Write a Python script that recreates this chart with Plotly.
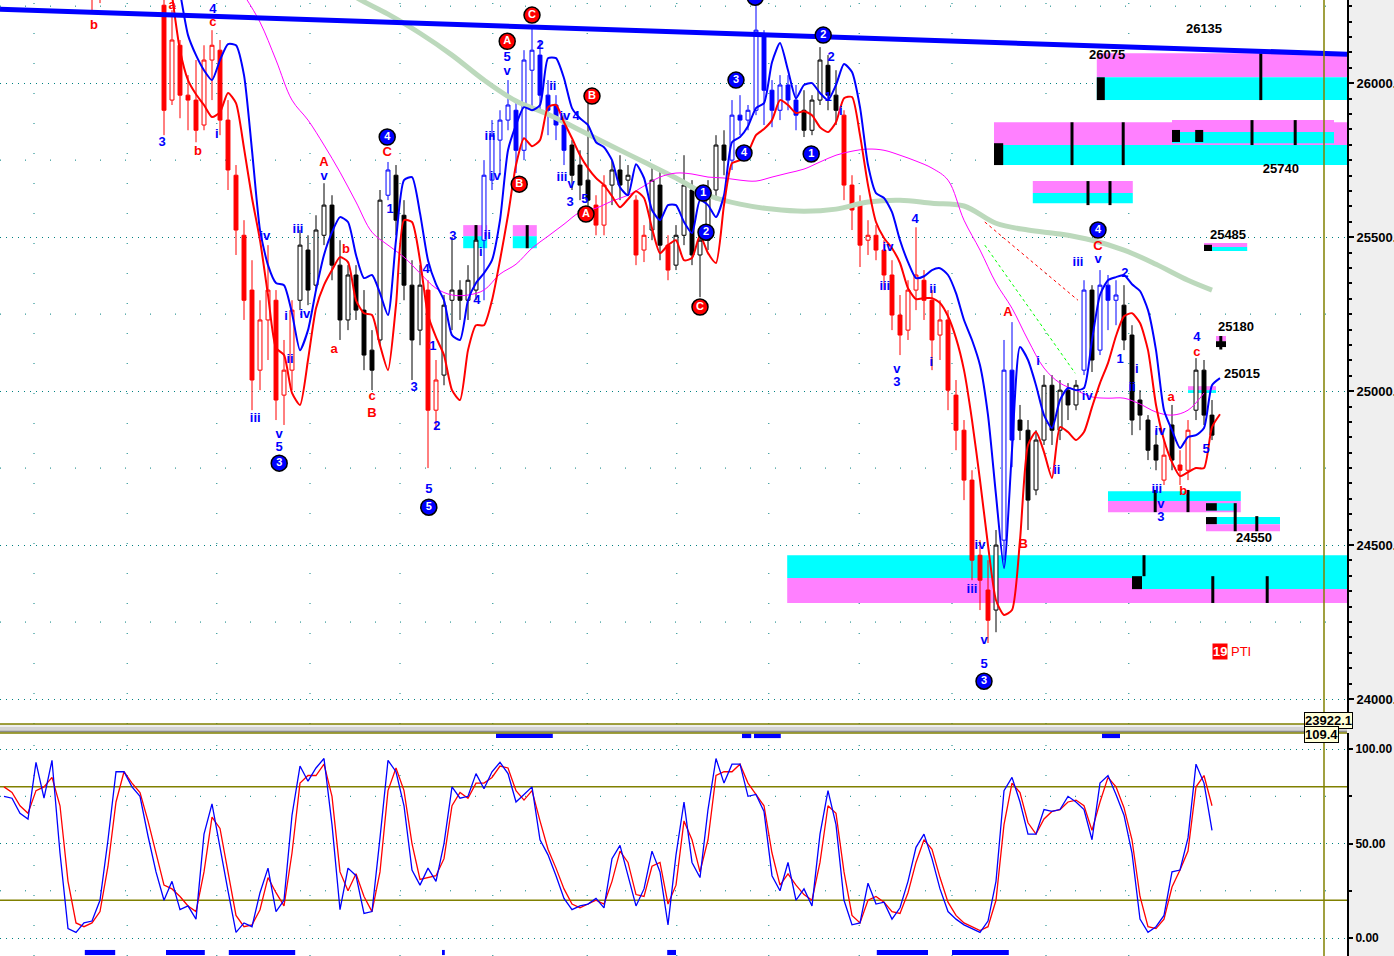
import plotly.graph_objects as go

# ---------------- price bars (bar index 0..151) ----------------
bar_open = [
    26480, 26500, 26540, 26500, 26450, 26560, 26520, 26600, 26480, 26350,
    26330, 26360, 26300, 26400, 26500, 26580, 26590, 26540, 26500, 26420,
    26253, 25945, 26123, 25961, 25945, 25864, 26075, 26107, 25880, 25701,
    25506, 25328, 25068, 25231, 25295, 24987, 25068, 25295, 25458, 25344,
    25506, 25604, 25409, 25231, 25377, 25263, 25133, 25166, 25636, 25701,
    25571, 25344, 25198, 25328, 24938, 25052, 25295, 25328, 25295, 25328,
    25490, 25685, 25815, 25880, 25912, 25782, 26042, 26091, 25961, 25929,
    25864, 25799, 25734, 25685, 25604, 25539, 25669, 25718, 25685, 25620,
    25458, 25523, 25669, 25474, 25409, 25506, 25653, 25442, 25490, 25653,
    25799, 25750, 25896, 25880, 25912, 26156, 25977, 25912, 25994, 25945,
    25912, 25847, 25945, 26058, 25961, 25896, 25669, 25604, 25490, 25506,
    25458, 25377, 25247, 25198, 25328, 25360, 25295, 25182, 25231, 24987,
    24873, 24711, 24467, 24354, 24289, 24516, 25068, 24906, 24873, 24679,
    24841, 25019, 24873, 25003, 24955, 25068, 25328, 25133, 25344, 25295,
    25279, 25182, 24971, 24906, 24825, 24711, 24890, 24760, 24743, 24938,
    25068, 24922]
bar_high = [
    26530, 26560, 26570, 26520, 26580, 26590, 26620, 26610, 26490, 26380,
    26370, 26400, 26420, 26520, 26600, 26620, 26600, 26560, 26510, 26440,
    26300, 26237, 26140, 26026, 26075, 26123, 26172, 26140, 25945, 25734,
    25555, 25425, 25295, 25474, 25328, 25166, 25295, 25523, 25506, 25571,
    25675, 25636, 25490, 25409, 25409, 25328, 25198, 25653, 25744, 25734,
    25620, 25425, 25409, 25360, 25101, 25312, 25500, 25360, 25409, 25539,
    25750, 25880, 25912, 26010, 25945, 26107, 26182, 26140, 26010, 25961,
    25896, 25815, 25782, 25945, 25636, 25701, 25750, 25766, 25734, 25636,
    25539, 25734, 25718, 25506, 25539, 25766, 25685, 25523, 25685, 25831,
    25847, 25945, 25961, 25929, 26253, 26172, 26010, 26026, 26026, 25994,
    25977, 25961, 26117, 26091, 26042, 25912, 25701, 25636, 25555, 25539,
    25490, 25425, 25312, 25360, 25532, 25393, 25328, 25295, 25263, 25036,
    24906, 24743, 24516, 24451, 24549, 25166, 25224, 24955, 24906, 24873,
    25052, 25052, 25036, 25026, 25036, 25360, 25344, 25393, 25377, 25360,
    25344, 25214, 25003, 24922, 24873, 24841, 24955, 24808, 24906, 25107,
    25101, 24971]
bar_low = [
    26440, 26470, 26480, 26430, 26440, 26500, 26510, 26460, 26330, 26300,
    26300, 26225, 26260, 26390, 26490, 26540, 26520, 26480, 26400, 26300,
    25831, 25929, 25886, 25847, 25808, 25847, 25945, 25831, 25653, 25442,
    25231, 24938, 25003, 25101, 24906, 24890, 25003, 25263, 25279, 25328,
    25474, 25360, 25166, 25198, 25231, 25068, 25003, 25149, 25620, 25506,
    25295, 25036, 25149, 24750, 24873, 25019, 25198, 25231, 25231, 25295,
    25295, 25653, 25701, 25847, 25708, 25750, 25912, 25912, 25831, 25815,
    25734, 25653, 25620, 25571, 25506, 25506, 25604, 25620, 25636, 25409,
    25419, 25490, 25425, 25360, 25393, 25474, 25409, 25305, 25458, 25620,
    25701, 25718, 25831, 25847, 25896, 25864, 25857, 25880, 25912, 25847,
    25825, 25831, 25929, 25912, 25864, 25620, 25523, 25403, 25442, 25425,
    25328, 25198, 25117, 25166, 25263, 25231, 25068, 25101, 24938, 24808,
    24646, 24386, 24289, 24182, 24217, 24451, 24753, 24841, 24549, 24662,
    24825, 24825, 24841, 24906, 24938, 25052, 25062, 25117, 25198, 25214,
    25133, 24857, 24873, 24776, 24743, 24695, 24743, 24695, 24711, 24906,
    24890, 24841]
bar_close = [
    26500, 26540, 26500, 26450, 26560, 26520, 26600, 26480, 26350, 26330,
    26360, 26300, 26400, 26500, 26580, 26590, 26540, 26500, 26420, 26330,
    25912, 26140, 25961, 25945, 25847, 26075, 26123, 25880, 25718, 25523,
    25295, 25036, 25231, 25328, 24971, 25068, 25263, 25474, 25328, 25523,
    25604, 25409, 25231, 25377, 25263, 25117, 25068, 25620, 25718, 25555,
    25344, 25166, 25344, 24938, 25036, 25279, 25328, 25295, 25360, 25490,
    25701, 25831, 25880, 25929, 25782, 26075, 26107, 25961, 25912, 25864,
    25782, 25701, 25669, 25620, 25539, 25669, 25718, 25669, 25701, 25442,
    25506, 25685, 25474, 25393, 25506, 25669, 25442, 25490, 25653, 25799,
    25750, 25896, 25880, 25912, 26172, 25977, 25912, 25994, 25945, 25896,
    25847, 25945, 26075, 25961, 25912, 25669, 25588, 25474, 25506, 25458,
    25377, 25247, 25182, 25328, 25377, 25295, 25166, 25231, 25003, 24873,
    24711, 24451, 24386, 24256, 24500, 25068, 24841, 24873, 24646, 24841,
    25019, 24873, 25003, 24955, 25019, 25328, 25101, 25344, 25295, 25312,
    25166, 24906, 24922, 24808, 24776, 24792, 24776, 24743, 24873, 25068,
    24922, 24857]
# colour of each run of bars: (first, last, colour name)
bar_color_runs = [
    (0, 36, "red"), (37, 47, "black"), (48, 48, "blue"), (49, 52, "black"),
    (53, 54, "red"), (55, 59, "black"), (60, 70, "blue"), (71, 73, "black"),
    (74, 75, "red"), (76, 78, "black"), (79, 80, "red"), (81, 82, "black"),
    (83, 83, "red"), (84, 90, "black"), (91, 99, "blue"), (100, 104, "black"),
    (105, 123, "red"), (124, 124, "black"), (125, 126, "blue"), (127, 134, "black"),
    (135, 135, "blue"), (136, 136, "black"), (137, 139, "blue"), (140, 144, "black"),
    (145, 145, "red"), (146, 146, "black"), (147, 148, "red"), (149, 151, "black")]

# ---------------- indicator lines ----------------
env_x = list(range(21, 153))
env_upper = [
    26432, 26295, 26156, 26091, 26042, 26010, 26075, 26127, 26123, 26026,
    25782, 25523, 25409, 25351, 25344, 25253, 25133, 25198, 25328, 25442,
    25516, 25565, 25549, 25442, 25367, 25377, 25318, 25247, 25490, 25685,
    25695, 25578, 25425, 25347, 25295, 25182, 25166, 25295, 25351, 25383,
    25425, 25555, 25782, 25864, 25922, 25912, 25929, 26081, 26081, 26016,
    25919, 25886, 25864, 25808, 25792, 25750, 25662, 25636, 25737, 25692,
    25588, 25555, 25604, 25604, 25549, 25513, 25620, 25604, 25565, 25636,
    25808, 25825, 25860, 25919, 25935, 26068, 26130, 26042, 25951, 25994,
    26000, 25968, 25945, 25994, 26062, 26036, 25922, 25734, 25643, 25627,
    25581, 25490, 25419, 25367, 25373, 25393, 25399, 25377, 25318, 25231,
    25166, 25084, 24922, 24662, 24425, 24808, 25143, 25101, 25019, 24922,
    24880, 24971, 25010, 25003, 25010, 25166, 25312, 25360, 25370, 25377,
    25347, 25325, 25263, 25133, 24938, 24873, 24815, 24851, 24857, 24880,
    25019, 25042]
env_lower = [
    26286, 26107, 26010, 25964, 25929, 25890, 25906, 25968, 25935, 25789,
    25627, 25490, 25312, 25140, 25117, 24994, 24955, 25101, 25269, 25344,
    25393, 25435, 25419, 25295, 25253, 25247, 25149, 25068, 25279, 25555,
    25549, 25425, 25247, 25175, 25117, 25003, 24971, 25133, 25214, 25214,
    25295, 25425, 25571, 25734, 25821, 25795, 25815, 25922, 25929, 25873,
    25821, 25766, 25724, 25692, 25669, 25633, 25597, 25623, 25649, 25627,
    25529, 25448, 25474, 25490, 25425, 25432, 25506, 25448, 25416, 25604,
    25740, 25750, 25776, 25831, 25851, 25880, 25945, 25929, 25903, 25909,
    25896, 25857, 25841, 25873, 25951, 25955, 25831, 25669, 25549, 25497,
    25464, 25416, 25334, 25299, 25302, 25302, 25286, 25243, 25172, 25068,
    24906, 24711, 24500, 24321, 24273, 24289, 24516, 24825, 24867, 24802,
    24718, 24883, 24867, 24841, 24867, 24948, 25026, 25091, 25179, 25243,
    25253, 25221, 25133, 24955, 24841, 24769, 24724, 24737, 24750, 24750,
    24883, 24925]
ma_fast_x = list(range(30, 151, 2))
ma_fast = [
    26286, 26198, 26075, 25945, 25880, 25799, 25711, 25614, 25516, 25474,
    25435, 25383, 25334, 25312, 25312, 25328, 25380, 25412, 25464, 25503,
    25542, 25581, 25594, 25617, 25636, 25666, 25695, 25708, 25705, 25695,
    25692, 25685, 25682, 25695, 25708, 25721, 25744, 25766, 25779, 25786,
    25782, 25766, 25747, 25724, 25685, 25555, 25458, 25351, 25269, 25166,
    25075, 25026, 25003, 24981, 24977, 24977, 24958, 24932, 24922, 24938,
    24994]
ma_slow_x = [42, 44, 48, 52, 56, 60, 64, 68, 72, 76, 80, 84, 88, 92, 96, 100,
             104, 108, 112, 116, 120, 124, 128, 132, 136, 140, 144, 148, 151]
ma_slow = [26318, 26279, 26224, 26162, 26091, 26010, 25942, 25899, 25847, 25795,
           25744, 25692, 25636, 25607, 25591, 25584, 25591, 25614, 25620, 25610,
           25601, 25545, 25523, 25510, 25490, 25458, 25412, 25360, 25328]

trend_x = [-0.5, 167.9]
trend_y = [26240, 26094]
chan_green_x = [122.6, 133.9]
chan_green_y = [25474, 25058]
chan_red_x = [122.6, 134.25]
chan_red_y = [25549, 25295]

# ---------------- stochastic ----------------
stoch_k = [
    75, 74, 66, 63, 93, 74, 94, 45, 5, 3,
    8, 9, 20, 52, 88, 88, 80, 75, 54, 35,
    20, 30, 15, 17, 10, 55, 71, 47, 25, 3,
    8, 6, 24, 37, 14, 20, 65, 91, 83, 90,
    95, 60, 15, 37, 33, 13, 14, 53, 94, 88,
    70, 36, 28, 37, 30, 50, 80, 74, 75, 87,
    79, 88, 93, 87, 72, 76, 80, 52, 44, 33,
    21, 15, 17, 18, 21, 16, 42, 49, 33, 17,
    26, 46, 35, 7, 44, 72, 40, 32, 68, 95,
    82, 92, 92, 75, 76, 67, 33, 25, 40, 20,
    26, 17, 55, 78, 60, 20, 7, 8, 29, 18,
    19, 10, 16, 30, 48, 55, 42, 26, 14, 10,
    7, 5, 3, 9, 30, 78, 85, 72, 55, 55,
    68, 67, 68, 75, 72, 68, 52, 82, 86, 76,
    65, 45, 10, 3, 6, 12, 35, 36, 53, 92,
    82, 57]
stoch_d = [
    80, 77, 70, 66, 78, 80, 85, 70, 30, 8,
    6, 8, 14, 38, 72, 88, 82, 77, 62, 45,
    28, 26, 22, 17, 14, 35, 64, 58, 35, 12,
    6, 7, 15, 32, 24, 17, 45, 82, 86, 86,
    92, 75, 35, 25, 34, 22, 14, 35, 78, 90,
    78, 50, 31, 32, 33, 42, 70, 77, 74, 82,
    82, 85, 91, 90, 78, 73, 78, 62, 47, 37,
    26, 18, 16, 18, 20, 18, 30, 46, 40, 23,
    22, 38, 40, 18, 28, 62, 52, 35, 52, 86,
    88, 88, 92, 82, 76, 70, 45, 28, 34, 28,
    23, 20, 40, 70, 66, 35, 12, 8, 20, 22,
    19, 14, 13, 24, 40, 52, 47, 32, 19, 12,
    8, 6, 4, 6, 20, 60, 82, 77, 61, 55,
    63, 67, 68, 72, 73, 70, 57, 72, 85, 80,
    69, 52, 22, 6, 5, 10, 27, 36, 46, 80,
    86, 70]
stoch_signal_bottom = [(10.1, 13.9), (20.25, 25.1), (28.1, 36.4), (54.75, 55.1),
                       (82.9, 84.0), (109.1, 115.5), (118.5, 125.6)]
stoch_signal_top = [(61.5, 68.6), (92.25, 93.4), (93.75, 97.1), (137.25, 139.5)]

# ---------------- target zones ----------------
zone_rects = [
    (136.6, 167.9, 26019, 26097, "pink"), (136.6, 167.9, 25945, 26019, "cyan"),
    (136.6, 137.6, 25945, 26019, "black"),
    (123.75, 167.9, 25799, 25873, "pink"), (123.75, 167.9, 25734, 25799, "cyan"),
    (146.0, 166.25, 25841, 25880, "pink"), (146.0, 166.25, 25805, 25841, "cyan"),
    (123.75, 124.9, 25734, 25805, "black"), (146.0, 147.0, 25809, 25848, "black"),
    (148.9, 149.9, 25809, 25848, "black"),
    (128.6, 141.1, 25643, 25682, "pink"), (128.6, 141.1, 25610, 25643, "cyan"),
    (150.0, 155.4, 25468, 25481, "pink"), (151.0, 155.4, 25455, 25468, "cyan"),
    (150.0, 151.0, 25455, 25475, "black"),
    (151.5, 152.75, 25162, 25179, "pink"), (151.5, 152.75, 25143, 25162, "black"),
    (148.0, 151.5, 25003, 25016, "pink"), (148.0, 151.5, 24994, 25003, "cyan"),
    (138.0, 154.6, 24643, 24675, "cyan"), (138.0, 154.6, 24607, 24643, "pink"),
    (150.25, 154.1, 24612, 24636, "cyan"), (150.25, 151.6, 24612, 24636, "black"),
    (150.25, 159.5, 24568, 24591, "cyan"), (150.25, 159.5, 24545, 24568, "pink"),
    (150.25, 151.6, 24568, 24591, "black"),
    (97.9, 141.0, 24393, 24467, "cyan"), (97.9, 141.0, 24312, 24393, "pink"),
    (141.0, 167.9, 24357, 24467, "cyan"), (141.0, 167.9, 24312, 24357, "pink"),
    (141.0, 142.25, 24357, 24399, "black"),
    (57.4, 60.4, 25503, 25539, "pink"), (57.4, 60.4, 25464, 25503, "cyan"),
    (63.6, 66.6, 25503, 25539, "pink"), (63.6, 66.6, 25464, 25503, "cyan")]
zone_ticks = [
    (157.1, 25945, 26097), (133.5, 25734, 25873), (139.9, 25734, 25873),
    (156.0, 25799, 25880), (161.4, 25799, 25880), (135.5, 25604, 25682),
    (138.25, 25604, 25682), (143.9, 24607, 24679), (148.0, 24607, 24679),
    (153.9, 24545, 24636), (156.6, 24545, 24594), (142.5, 24399, 24467),
    (151.1, 24312, 24399), (157.9, 24312, 24399), (59.0, 25464, 25539),
    (65.4, 25464, 25539), (152.1, 25135, 25179)]
price_labels = [("26135", 150.0, 26175), ("26075", 137.9, 26088), ("25740", 159.6, 25718),
                ("25485", 153.0, 25503), ("25180", 154.0, 25205), ("25015", 154.75, 25052),
                ("24550", 156.25, 24519)]

# ---------------- wave labels ----------------
blue_labels = [
    ("3", 19.75, 25805), ("4", 26.1, 26237), ("i", 26.6, 25831), ("iii", 31.4, 24909),
    ("iv", 32.6, 25500), ("v", 34.4, 24857), ("5", 34.4, 24815), ("i", 35.25, 25240),
    ("ii", 35.75, 25101), ("iii", 36.75, 25523), ("iv", 37.6, 25247), ("v", 40.0, 25695),
    ("1", 48.25, 25588), ("3", 51.25, 25010), ("4", 52.75, 25393), ("1", 53.6, 25143),
    ("2", 54.1, 24883), ("5", 53.1, 24679), ("3", 56.1, 25500), ("4", 59.1, 25295),
    ("i", 59.6, 25448), ("ii", 60.4, 25506), ("iv", 61.4, 25695), ("iii", 60.75, 25825),
    ("v", 62.9, 26036), ("5", 62.9, 26084), ("2", 67.0, 26123), ("ii", 68.6, 25987),
    ("iv", 70.1, 25890), ("4", 71.5, 25890), ("iii", 69.75, 25692), ("v", 70.9, 25670),
    ("3", 70.75, 25612), ("5", 72.6, 25620), ("2", 103.4, 26084), ("1", 103.0, 25951),
    ("i", 104.6, 25906), ("4", 113.9, 25555), ("iv", 110.5, 25464), ("iii", 110.1, 25338),
    ("ii", 116.1, 25328), ("v", 111.6, 25068), ("3", 111.6, 25026), ("i", 115.9, 25091),
    ("iii", 121.0, 24354), ("iv", 122.0, 24497), ("v", 122.5, 24188), ("5", 122.5, 24110),
    ("i", 129.25, 25094), ("ii", 131.6, 24743), ("iii", 134.25, 25416), ("iv", 135.4, 24981),
    ("v", 136.75, 25425), ("2", 140.1, 25380), ("1", 139.5, 25101), ("i", 141.6, 25068),
    ("ii", 141.0, 25010), ("iv", 144.5, 24867), ("iii", 144.1, 24679), ("v", 144.6, 24630),
    ("3", 144.6, 24588), ("4", 149.1, 25172), ("5", 150.25, 24808)]
blue_circles = [
    ("3", 34.4, 24766), ("4", 47.9, 25825), ("5", 53.1, 24623), ("3", 91.5, 26010),
    ("1", 87.4, 25643), ("2", 87.75, 25516), ("4", 92.5, 25773), ("1", 100.9, 25770),
    ("2", 102.4, 26156), ("3", 122.5, 24058), ("4", 136.75, 25523), ("5", 93.9, 26279)]
red_labels = [
    ("b", 11.25, 26188), ("a", 21.0, 26250), ("c", 26.1, 26195), ("b", 24.25, 25776),
    ("A", 40.0, 25743), ("a", 41.25, 25133), ("b", 42.75, 25458), ("c", 46.0, 24982),
    ("B", 46.0, 24925), ("C", 47.9, 25773), ("A", 125.5, 25253), ("B", 127.4, 24500),
    ("C", 136.75, 25468), ("a", 145.9, 24977), ("b", 147.4, 24672), ("c", 149.1, 25123)]
red_circles = [
    ("A", 62.9, 26136), ("B", 64.4, 25672), ("C", 66.0, 26221), ("B", 73.5, 25958),
    ("A", 72.75, 25575), ("C", 87.0, 25273)]

grid_x = [3.75, 15.4, 26.6, 38.25, 49.5, 61.1, 72.9, 84.1, 95.6, 106.9, 118.5, 130.25, 140.6]
price_ticks = [24000, 24500, 25000, 25500, 26000]
price_minor_rows = [24250, 24750, 25250, 25750, 26250]
stoch_ticks = [0, 50, 100]
stoch_levels = [20, 80]
cursor_x = 165.0

# ---------------- figure ----------------
X_RANGE = [-0.5, 167.875]
Y_RANGE = [23919, 26270]
S_RANGE = [-9.5, 108.5]
BLUE, RED, OLIVE, TEAL = "#0000ff", "#ff0000", "#808000", "#008080"
ZCOL = {"pink": "#ff80ff", "cyan": "#00ffff", "black": "#000000"}
FONT = "Liberation Sans"

fig = go.Figure()

# slow (grey-green) and fast (magenta) averages
fig.add_trace(go.Scatter(x=ma_slow_x, y=ma_slow, mode="lines",
                         line=dict(color="#bcd9bc", width=5, shape="spline"), hoverinfo="skip"))
fig.add_trace(go.Scatter(x=ma_fast_x, y=ma_fast, mode="lines",
                         line=dict(color="#ff00ff", width=1, shape="spline"), hoverinfo="skip"))

# price bars by colour
colour_of = {}
for a, b, c in bar_color_runs:
    for i in range(a, b + 1):
        colour_of[i] = c
cmap = {"red": RED, "blue": BLUE, "black": "#000000"}
for cname, ccol in cmap.items():
    sel = [i for i in range(len(bar_close)) if colour_of[i] == cname]
    fig.add_trace(go.Candlestick(
        x=sel, open=[bar_open[i] for i in sel], high=[bar_high[i] for i in sel],
        low=[bar_low[i] for i in sel], close=[bar_close[i] for i in sel],
        increasing=dict(line=dict(color=ccol, width=1), fillcolor="white"),
        decreasing=dict(line=dict(color=ccol, width=1), fillcolor=ccol),
        whiskerwidth=0, hoverinfo="skip", xaxis="x", yaxis="y"))

# envelopes
fig.add_trace(go.Scatter(x=env_x, y=env_upper, mode="lines",
                         line=dict(color=BLUE, width=2, shape="spline", smoothing=0.6), hoverinfo="skip"))
fig.add_trace(go.Scatter(x=env_x, y=env_lower, mode="lines",
                         line=dict(color=RED, width=2, shape="spline", smoothing=0.6), hoverinfo="skip"))
# channel lines
fig.add_trace(go.Scatter(x=chan_green_x, y=chan_green_y, mode="lines",
                         line=dict(color="#00ff00", width=1, dash="dot"), hoverinfo="skip"))
fig.add_trace(go.Scatter(x=chan_red_x, y=chan_red_y, mode="lines",
                         line=dict(color=RED, width=1, dash="dot"), hoverinfo="skip"))
# trendline
fig.add_trace(go.Scatter(x=trend_x, y=trend_y, mode="lines",
                         line=dict(color=BLUE, width=5), hoverinfo="skip"))

# wave labels
def text_trace(items, colour, size=13):
    return go.Scatter(x=[t[1] for t in items], y=[t[2] for t in items], text=[t[0] for t in items],
                      mode="text", textposition="middle center",
                      textfont=dict(family=FONT, size=size, color=colour, weight="bold"),
                      hoverinfo="skip")

def circle_trace(items, colour):
    return go.Scatter(x=[t[1] for t in items], y=[t[2] for t in items], text=[t[0] for t in items],
                      mode="markers+text", textposition="middle center",
                      marker=dict(symbol="circle", size=16, color=colour, line=dict(color="black", width=1.5)),
                      textfont=dict(family=FONT, size=11, color="white", weight="bold"),
                      hoverinfo="skip")

fig.add_trace(text_trace(blue_labels, BLUE))
fig.add_trace(text_trace(red_labels, RED))
fig.add_trace(circle_trace(blue_circles, BLUE))
fig.add_trace(circle_trace(red_circles, RED))
fig.add_trace(text_trace(price_labels, "black", 13))

# stochastic
fig.add_trace(go.Scatter(x=list(range(len(stoch_d))), y=stoch_d, mode="lines",
                         line=dict(color=RED, width=1.3), xaxis="x2", yaxis="y2", hoverinfo="skip"))
fig.add_trace(go.Scatter(x=list(range(len(stoch_k))), y=stoch_k, mode="lines",
                         line=dict(color=BLUE, width=1.3), xaxis="x2", yaxis="y2", hoverinfo="skip"))

shapes = []
for x0, x1, y0, y1, k in zone_rects:
    shapes.append(dict(type="rect", xref="x", yref="y", x0=x0, x1=x1, y0=y0, y1=y1,
                       fillcolor=ZCOL[k], line=dict(width=0), layer="between"))
for x, y0, y1 in zone_ticks:
    shapes.append(dict(type="line", xref="x", yref="y", x0=x, x1=x, y0=y0, y1=y1,
                       line=dict(color="black", width=3), layer="between"))
for yv in price_minor_rows:
    shapes.append(dict(type="line", xref="x domain", yref="y", x0=0, x1=1, y0=yv, y1=yv,
                       line=dict(color=TEAL, width=1, dash="1px,24px"), layer="below"))
for yv in [25, 75]:
    shapes.append(dict(type="line", xref="x2 domain", yref="y2", x0=0, x1=1, y0=yv, y1=yv,
                       line=dict(color=TEAL, width=1, dash="1px,24px"), layer="below"))
for xv in grid_x:
    shapes.append(dict(type="line", xref="x", yref="y domain", x0=xv, x1=xv, y0=0, y1=1,
                       line=dict(color=TEAL, width=1, dash="1px,29px"), layer="below"))
    shapes.append(dict(type="line", xref="x2", yref="y2 domain", x0=xv, x1=xv, y0=0, y1=1,
                       line=dict(color=TEAL, width=1, dash="1px,29px"), layer="below"))
for lv in stoch_levels:
    shapes.append(dict(type="line", xref="x2 domain", yref="y2", x0=0, x1=1, y0=lv, y1=lv,
                       line=dict(color=OLIVE, width=1.5), layer="below"))
for x0, x1 in stoch_signal_bottom:
    shapes.append(dict(type="rect", xref="x2", yref="y2", x0=x0, x1=x1, y0=-9.0, y1=-6.3,
                       fillcolor=BLUE, line=dict(width=0)))
for x0, x1 in stoch_signal_top:
    shapes.append(dict(type="rect", xref="x2", yref="y2", x0=x0, x1=x1, y0=105.8, y1=108.2,
                       fillcolor=BLUE, line=dict(width=0)))
# separator between the panels
MAIN_BOTTOM = 232 / 956
LOW_TOP = 223 / 956
shapes.append(dict(type="rect", xref="paper", yref="paper", x0=0, x1=1, y0=225 / 956, y1=229 / 956,
                   fillcolor="#d4d4d4", line=dict(width=0)))
shapes.append(dict(type="line", xref="paper", yref="paper", x0=0, x1=1, y0=224.5 / 956, y1=224.5 / 956,
                   line=dict(color="#8c8c8c", width=1.5)))
shapes.append(dict(type="line", xref="x domain", yref="y domain", x0=0, x1=1, y0=0, y1=0,
                   line=dict(color=OLIVE, width=1.5)))
shapes.append(dict(type="line", xref="x2 domain", yref="y2 domain", x0=0, x1=1, y0=1, y1=1,
                   line=dict(color=OLIVE, width=1.5)))
shapes.append(dict(type="line", xref="x", yref="paper", x0=cursor_x, x1=cursor_x, y0=0, y1=1,
                   line=dict(color=OLIVE, width=1.5), layer="above"))

annotations = [
    dict(x=152.0, y=24153, xref="x", yref="y", text="19", showarrow=False, bgcolor=RED,
         font=dict(family=FONT, size=13, color="white", weight="bold"), borderpad=0),
    dict(x=153.1, y=24153, xref="x", yref="y", text="PTI", showarrow=False, xanchor="left",
         font=dict(family=FONT, size=13, color=RED)),
    dict(x=1349 / 1394, y=(956 - 720) / 956, xref="paper", yref="paper", text="23922.1",
         showarrow=False, xanchor="left", yanchor="middle", bgcolor="#ffffd8",
         bordercolor="black", borderwidth=1, borderpad=0,
         font=dict(family=FONT, size=13, color="black", weight="bold")),
    dict(x=1349 / 1394, y=(956 - 734) / 956, xref="paper", yref="paper", text="109.4",
         showarrow=False, xanchor="left", yanchor="middle", bgcolor="#ffffd8",
         bordercolor="black", borderwidth=1, borderpad=0,
         font=dict(family=FONT, size=13, color="black", weight="bold")),
]

axis_common = dict(showgrid=False, zeroline=False, showticklabels=False, ticks="", fixedrange=True)
fig.update_layout(
    template="none", width=1394, height=956, margin=dict(l=0, r=47, t=0, b=0),
    paper_bgcolor="#efefef", plot_bgcolor="white", showlegend=False, boxmode="overlay",
    xaxis=dict(domain=[0, 1], range=X_RANGE, anchor="y", rangeslider=dict(visible=False),
               automargin=False, **axis_common),
    xaxis2=dict(domain=[0, 1], range=X_RANGE, anchor="y2", matches="x", automargin=False, **axis_common),
    yaxis=dict(domain=[MAIN_BOTTOM, 1], range=Y_RANGE, side="right", anchor="x", automargin=False,
               tickmode="array", tickvals=price_ticks, ticktext=[f"{v}.00" for v in price_ticks],
               ticks="outside", ticklen=5, tickwidth=1.5, tickcolor="black",
               showline=True, linecolor="black", linewidth=2, zeroline=False,
               showgrid=True, gridcolor=TEAL, gridwidth=1, griddash="1px,5px",
               minor=dict(dtick=50, tick0=0, ticks="outside", ticklen=3, tickcolor="black", showgrid=False),
               tickfont=dict(family=FONT, size=13, color="black", weight="bold")),
    yaxis2=dict(domain=[0, LOW_TOP], range=S_RANGE, side="right", anchor="x2", automargin=False,
                tickmode="array", tickvals=stoch_ticks, ticktext=[f"{v}.00" for v in stoch_ticks],
                ticks="outside", ticklen=4, tickwidth=1.5, tickcolor="black",
                showline=True, linecolor="black", linewidth=2, zeroline=False,
                showgrid=True, gridcolor=TEAL, gridwidth=1, griddash="1px,5px",
                minor=dict(dtick=25, tick0=0, ticks="outside", ticklen=3, tickcolor="black", showgrid=False),
                tickfont=dict(family=FONT, size=12, color="black", weight="bold")),
    shapes=shapes, annotations=annotations,
)

fig.write_html("out.html", config={"displayModeBar": False},
               post_script="document.body.style.margin='0';document.body.style.overflow='hidden';")
